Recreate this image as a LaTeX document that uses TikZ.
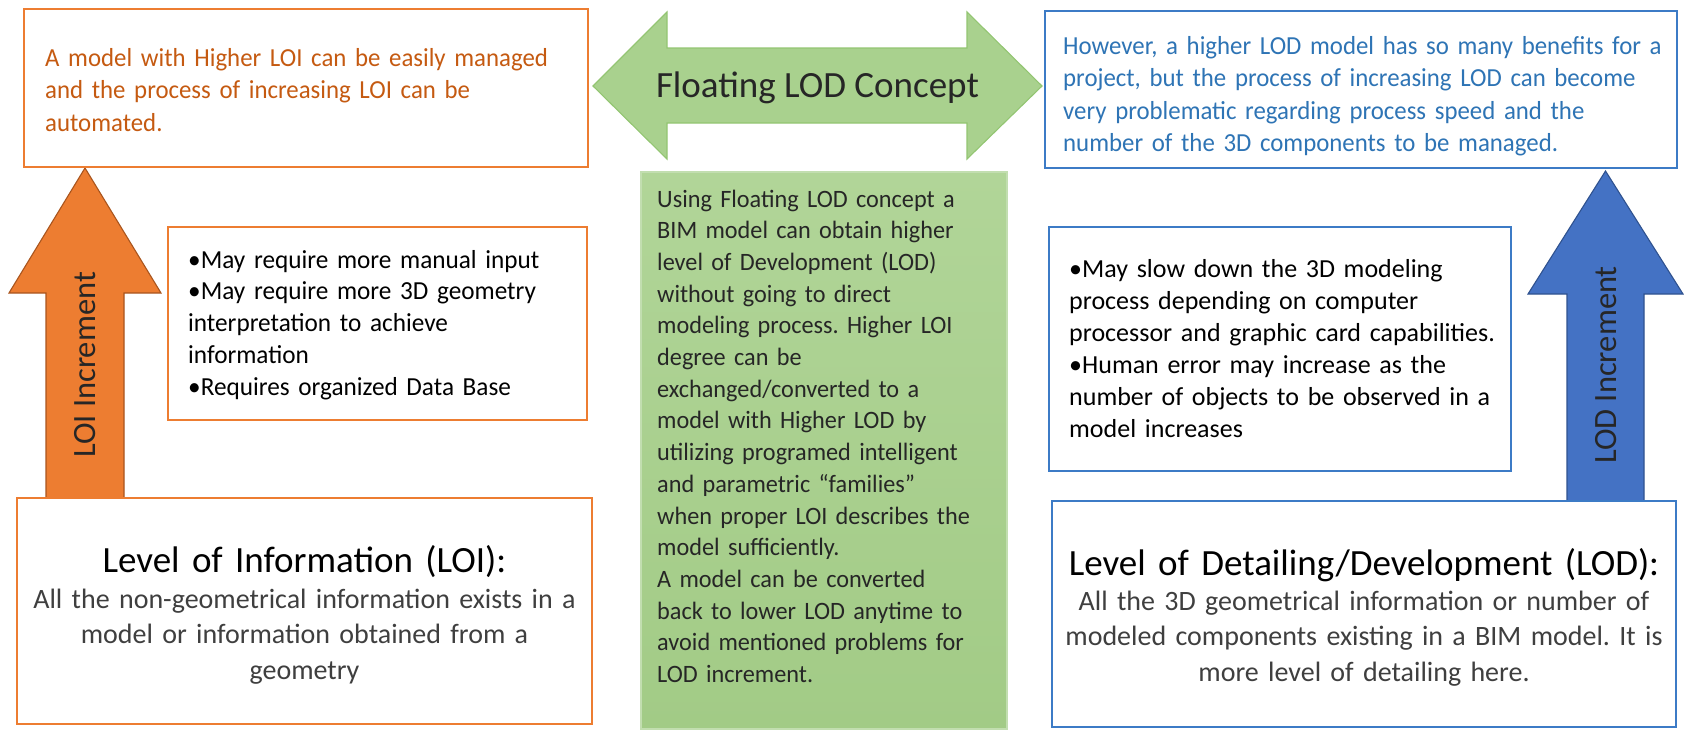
\documentclass[tikz,border=0pt]{standalone}
\usepackage{fontspec}
\setmainfont{Carlito}
\newfontfamily\narrowA[FakeStretch=0.955]{Carlito}
\newfontfamily\narrowB[FakeStretch=0.97]{Carlito}
\definecolor{loiline}{HTML}{ED7D31}
\definecolor{loitext}{HTML}{C55A11}
\definecolor{loiarrow}{HTML}{ED7D31}
\definecolor{loiarrowedge}{HTML}{A9551E}
\definecolor{lodline}{HTML}{3C7BC6}
\definecolor{lodtext}{HTML}{2E74B5}
\definecolor{lodarrow}{HTML}{4472C4}
\definecolor{lodarrowedge}{HTML}{2F528F}
\definecolor{floatfill}{HTML}{A9D18E}
\definecolor{floatedge}{HTML}{93C572}
\definecolor{conceptup}{HTML}{B1D598}
\definecolor{conceptdown}{HTML}{A2CB86}
\definecolor{conceptedge}{HTML}{C2DEB0}
\definecolor{bodygray}{HTML}{3F3F3F}
\definecolor{darkgray}{HTML}{262626}
\newcommand\fsz[2]{\fontsize{#1pt}{#2pt}\selectfont}
\frenchspacing
\begin{document}
\begin{tikzpicture}[x=1pt,y=-1pt,
  panel/.style={draw, line width=1.8pt, fill=white, inner sep=0pt, outer sep=0pt, anchor=north west},
  loipanel/.style={panel, draw=loiline},
  lodpanel/.style={panel, draw=lodline},
  lefttext/.style={inner sep=0pt, text width=#1, align=left, anchor=base west},
  midtext/.style={inner sep=0pt, text width=#1, align=center, anchor=base},
  blockarrow/.style={line width=1.1pt, line join=miter},
  arrowlabel/.style={inner sep=0pt, rotate=90, font=\fsz{32.5}{36}, text=darkgray}
]
\useasboundingbox (0,0) rectangle (1684,729);

% vertical block arrows (shafts run under the lower panels)
\draw[blockarrow, draw=loiarrowedge, fill=loiarrow]
  (85,168) -- (161,293) -- (124,293) -- (124,498) -- (46,498) -- (46,293) -- (9,293) -- cycle;
\draw[blockarrow, draw=lodarrowedge, fill=lodarrow]
  (1605.5,171) -- (1683,294) -- (1644,294) -- (1644,501) -- (1567,501) -- (1567,294) -- (1528,294) -- cycle;
\node[arrowlabel] (loiinc) at (85,365) {LOI Increment};
\node[arrowlabel] (lodinc) at (1606,365) {LOD Increment};

% horizontal double arrow
\draw[blockarrow, draw=floatedge, fill=floatfill]
  (593,86) -- (667,12) -- (667,48) -- (967,48) -- (967,12) -- (1042,86)
  -- (967,159) -- (967,123) -- (667,123) -- (667,159) -- cycle;
\node[inner sep=0pt, anchor=base, font=\fsz{37}{44}, text=darkgray] (floatlbl) at (817.5,97) {Floating LOD Concept};

% top panels
\node[loipanel, minimum width=564, minimum height=158] (loitop) at (24,9) {};
\node[lefttext=540pt, text=loitext, font=\narrowA\fsz{26}{32.5}] (loitoptxt) at (45,66)
  {A model with Higher LOI can be easily managed\\and the process of increasing LOI can be\\automated.};

\node[lodpanel, minimum width=632, minimum height=157] (lodtop) at (1045,11) {};
\node[lefttext=628pt, text=lodtext, font=\narrowA\fsz{26}{32.5}] (lodtoptxt) at (1063,54)
  {However, a higher LOD model has so many benefits for a\\project, but the process of increasing LOD can become\\very problematic regarding process speed and the\\number of the 3D components to be managed.};

% drawback lists
\node[loipanel, minimum width=419, minimum height=193] (loicons) at (168,227) {};
\node[lefttext=400pt, font=\narrowB\fsz{26}{31.75}] (loiconstxt) at (188,268)
  {•May require more manual input\\•May require more 3D geometry\\interpretation to achieve\\information\\•Requires organized Data Base};

\node[lodpanel, minimum width=462, minimum height=244] (lodcons) at (1049,227) {};
\node[lefttext=445pt, font=\fsz{26}{32}] (lodconstxt) at (1069,277)
  {•May slow down the 3D modeling\\process depending on computer\\processor and graphic card capabilities.\\•Human error may increase as the\\number of objects to be observed in a\\model increases};

% central concept panel
\node[anchor=north west, inner sep=0pt, outer sep=0pt, minimum width=366, minimum height=557,
      draw=conceptedge, line width=1.2pt, top color=conceptup, bottom color=conceptdown] (concept) at (641,172) {};
\node[lefttext=360pt, text=darkgray, font=\narrowB\fsz{25}{31.7}] (concepttxt) at (657,207)
  {Using Floating LOD concept a\\BIM model can obtain higher\\level of Development (LOD)\\without going to direct\\modeling process. Higher LOI\\degree can be\\exchanged/converted to a\\model with Higher LOD by\\utilizing programed intelligent\\and parametric “families”\\when proper LOI describes the\\model sufficiently.\\A model can be converted\\back to lower LOD anytime to\\avoid mentioned problems for\\LOD increment.};

% bottom definition panels
\node[loipanel, minimum width=575, minimum height=226] (loidef) at (17,498) {};
\node[midtext=570pt, font=\fsz{37}{44}] (loihead) at (304.5,572) {Level of Information (LOI):};
\node[midtext=570pt, text=bodygray, font=\fsz{28}{35.5}] (loibody) at (304.5,608)
  {All the non-geometrical information exists in a\\model or information obtained from a\\geometry};

\node[lodpanel, minimum width=624, minimum height=226] (loddef) at (1052,501) {};
\node[midtext=615pt, font=\fsz{37}{44}] (lodhead) at (1364,575) {Level of Detailing/Development (LOD):};
\node[midtext=615pt, text=bodygray, font=\fsz{28}{35.5}] (lodbody) at (1364,610)
  {All the 3D geometrical information or number of\\modeled components existing in a BIM model. It is\\more level of detailing here.};
\end{tikzpicture}
\end{document}
